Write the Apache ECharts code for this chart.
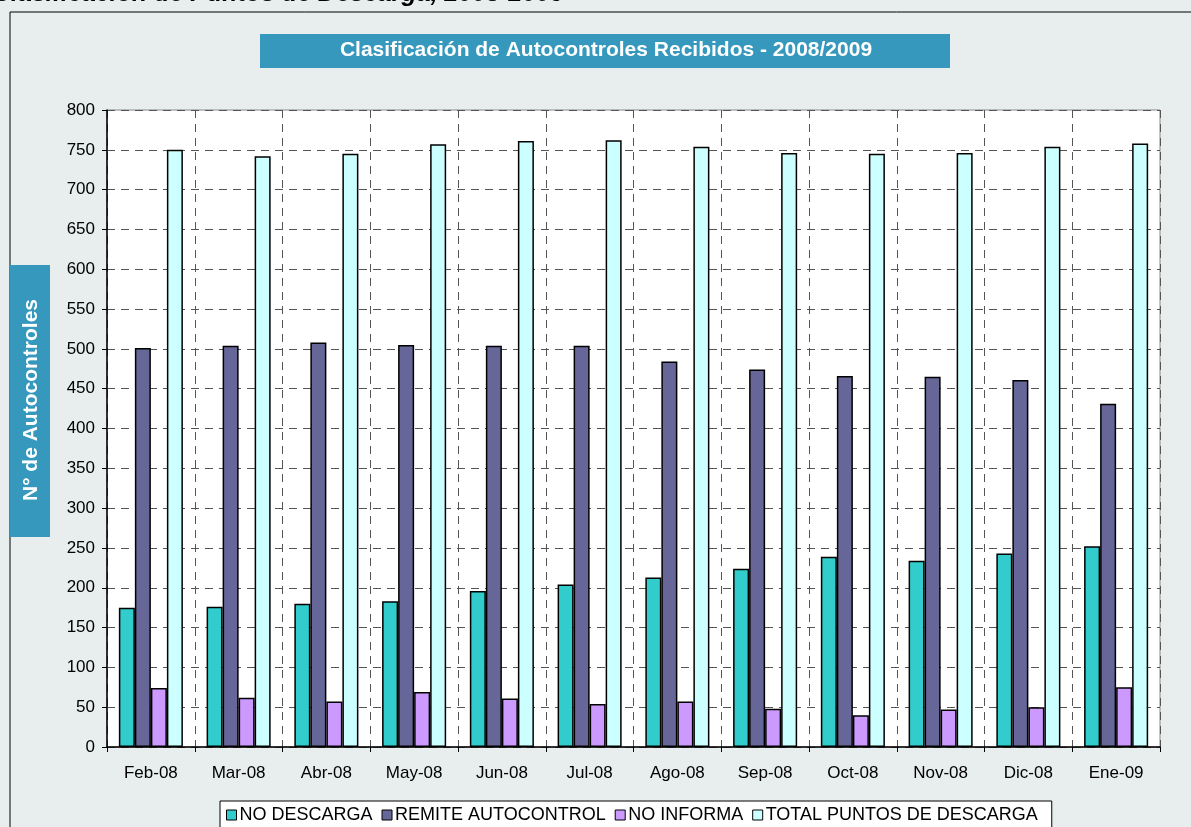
<!DOCTYPE html>
<html>
<head>
<meta charset="utf-8">
<script src="https://cdn.jsdelivr.net/npm/echarts@6/dist/echarts.min.js"></script>
<style>
html, body { margin: 0; padding: 0; background: #E8EDED; }
#chart { width: 1191px; height: 827px; }
</style>
</head>
<body>
<div id="chart"></div>
<script>
// datos
var meses = ['Feb-08', 'Mar-08', 'Abr-08', 'May-08', 'Jun-08', 'Jul-08', 'Ago-08', 'Sep-08', 'Oct-08', 'Nov-08', 'Dic-08', 'Ene-09'];
var noDescarga = [175, 176, 180, 183, 196, 204, 213, 224, 239, 234, 243, 252];
var remiteAutocontrol = [501, 504, 508, 505, 504, 504, 484, 474, 466, 465, 461, 431];
var noInforma = [74, 62, 57, 69, 61, 54, 57, 48, 40, 47, 50, 75];
var totalPuntos = [750, 742, 745, 757, 761, 762, 754, 746, 745, 746, 754, 758];

var fuente = '"Liberation Sans", Arial, sans-serif';

function serie(nombre, datos, color) {
    return {
        name: nombre,
        type: 'bar',
        data: datos,
        barGap: 0,
        barCategoryGap: '27%',
        animation: false,
        itemStyle: {
            color: color,
            borderColor: '#000',
            borderWidth: 1.5
        }
    };
}

var myChart = echarts.init(document.getElementById('chart'));
var option = {
    backgroundColor: '#E8EDED',
    textStyle: { fontFamily: fuente },
    title: {
        text: 'Clasificación de Puntos de Descarga, 2008-2009',
        left: -12,
        top: -23,
        textStyle: { fontSize: 25, fontWeight: 'bold', fontStyle: 'italic', color: '#000', fontFamily: fuente }
    },
    graphic: [
        // marco exterior
        { type: 'rect', shape: { x: 10, y: 12, width: 1200, height: 840 }, style: { fill: 'none', stroke: '#000', lineWidth: 1 }, z: 0 },
        // caja del titulo
        { type: 'rect', shape: { x: 260, y: 34, width: 690, height: 34 }, style: { fill: '#3598BC' } },
        { type: 'text', x: 606, y: 50, style: { text: 'Clasificación de Autocontroles Recibidos - 2008/2009', fill: '#fff', fontFamily: fuente, fontSize: 21, fontWeight: 'bold', align: 'center', verticalAlign: 'middle' } },
        // caja del eje y
        { type: 'rect', shape: { x: 10, y: 265, width: 40, height: 272 }, style: { fill: '#3598BC' } },
        { type: 'text', x: 31, y: 400, rotation: Math.PI / 2, style: { text: 'N° de Autocontroles', fill: '#fff', fontFamily: fuente, fontSize: 21, fontWeight: 'bold', align: 'center', verticalAlign: 'middle' } }
    ],
    legend: {
        left: 220,
        top: 801,
        backgroundColor: '#fff',
        borderColor: '#000',
        borderWidth: 1,
        padding: [5, 14, 8, 6],
        itemGap: 9,
        itemWidth: 10,
        itemHeight: 10,
        icon: 'rect',
        itemStyle: { borderColor: '#000', borderWidth: 1 },
        textStyle: { fontSize: 18, color: '#000', padding: [0, 0, 0, -2] },
        data: ['NO DESCARGA', 'REMITE AUTOCONTROL', 'NO INFORMA', 'TOTAL PUNTOS DE DESCARGA']
    },
    grid: {
        left: 107,
        right: 31,
        top: 110,
        bottom: 80,
        show: true,
        backgroundColor: '#fff',
        borderColor: '#888',
        borderWidth: 1
    },
    xAxis: {
        type: 'category',
        data: meses,
        axisLine: { lineStyle: { color: '#000', width: 1.5 } },
        axisTick: { show: true, length: 5, lineStyle: { color: '#000' } },
        axisLabel: { fontSize: 17, color: '#000', margin: 18 },
        splitLine: { show: true, lineStyle: { color: '#555', type: [8, 6], width: 1 } }
    },
    yAxis: {
        type: 'value',
        min: 0,
        max: 800,
        interval: 50,
        axisLine: { show: true, lineStyle: { color: '#000', width: 1.5 } },
        axisTick: { show: true, length: 5, lineStyle: { color: '#000' } },
        axisLabel: { fontSize: 17, color: '#000', margin: 12 },
        splitLine: { show: true, lineStyle: { color: '#555', type: [8, 6], width: 1 } }
    },
    series: [
        serie('NO DESCARGA', noDescarga, '#33CCCC'),
        serie('REMITE AUTOCONTROL', remiteAutocontrol, '#666699'),
        serie('NO INFORMA', noInforma, '#CC99FF'),
        serie('TOTAL PUNTOS DE DESCARGA', totalPuntos, '#CCFFFF')
    ]
};
myChart.setOption(option);
</script>
</body>
</html>
